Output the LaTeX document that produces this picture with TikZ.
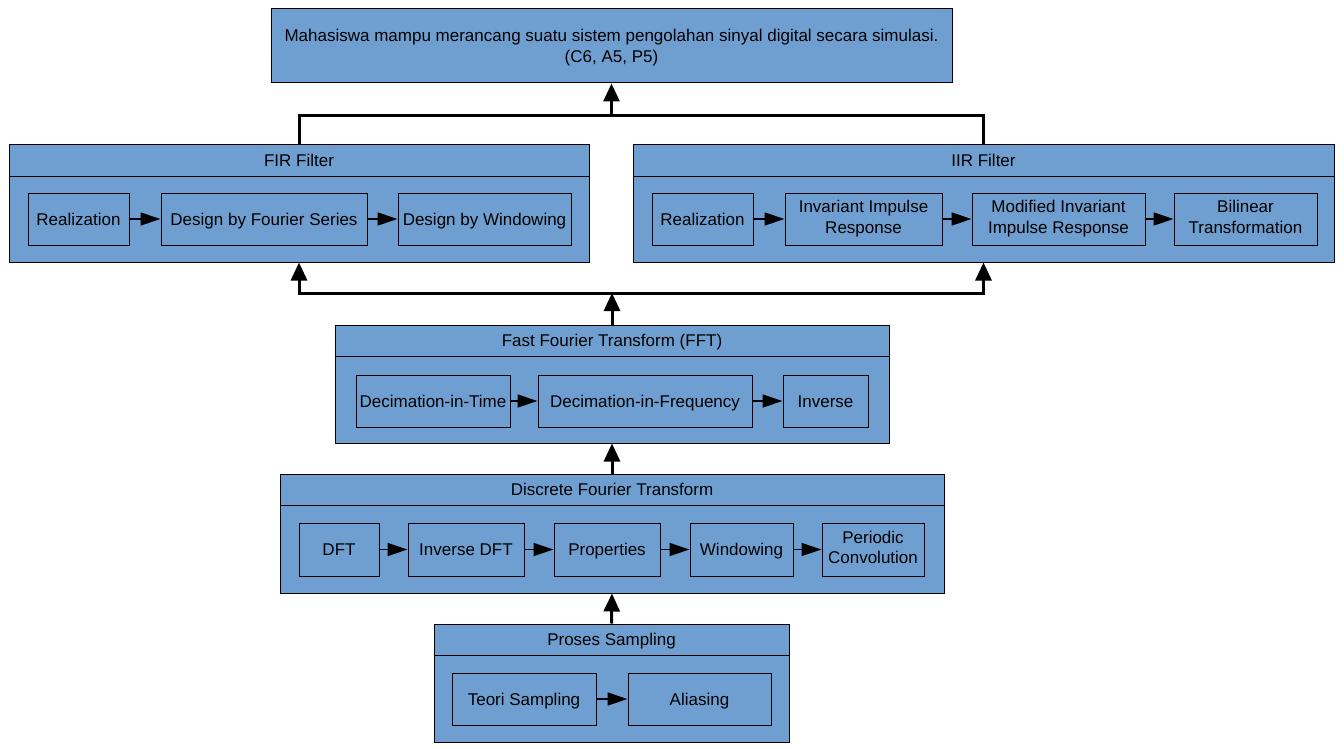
\documentclass[tikz,border=0pt]{standalone}
\usepackage{fontspec}
\setmainfont{Liberation Sans}
\usetikzlibrary{arrows.meta}
\definecolor{boxblue}{RGB}{111,159,208}
\newcommand{\capstrut}{\rule[-4.2pt]{0pt}{20.5pt}}

\begin{document}
\begin{tikzpicture}[
  x=1pt, y=-1pt,
  font=\fontsize{17}{20.5}\selectfont,
  panel/.style={
    draw=black, fill=boxblue, line width=1pt,
    inner sep=0pt
  },
  item/.style={
    draw=black, fill=boxblue, line width=1pt,
    minimum height=52pt, inner sep=0pt, align=center,
    execute at begin node=\capstrut, execute at end node=\capstrut
  },
  title/.style={inner sep=0pt, anchor=center, execute at begin node=\capstrut},
  flow/.style={line width=1.3pt, -{Triangle[length=20pt, width=13pt]}},
  bus/.style={line width=3pt},
  busarrow/.style={line width=3pt, -{Triangle[length=18pt, width=16pt]}},
]
  \useasboundingbox (0,0) rectangle (1344,749);

  % goal
  \node[panel, minimum width=681pt, minimum height=74pt, align=center]
    (goal) at (611.5,46)
    {\capstrut Mahasiswa mampu merancang suatu sistem pengolahan sinyal digital secara simulasi.\\(C6, A5, P5)\capstrut};

  % panels
  \node[panel, minimum width=580pt, minimum height=117pt] (fir) at (299,203.5) {};
  \node[panel, minimum width=701pt, minimum height=117pt] (iir) at (983.5,203.5) {};
  \node[panel, minimum width=554pt, minimum height=118pt] (fft) at (612,384) {};
  \node[panel, minimum width=664pt, minimum height=119pt] (dft) at (612,533.5) {};
  \node[panel, minimum width=355pt, minimum height=118pt] (samp) at (611.5,683) {};

  \foreach \p/\t in {fir/FIR Filter, iir/IIR Filter,
                     fft/Fast Fourier Transform (FFT),
                     dft/Discrete Fourier Transform,
                     samp/Proses Sampling} {
    \node[title] (\p-title) at ([yshift=-16pt]\p.north) {\t};
    \draw[line width=1pt] ([yshift=-32pt]\p.north west)
                       -- ([yshift=-32pt]\p.north east);
  }

  % FIR
  \node[item, minimum width=101pt] (fir1) at (78.5,219) {Realization};
  \node[item, minimum width=206pt] (fir2) at (264,219) {Design by Fourier Series};
  \node[item, minimum width=173pt] (fir3) at (484.5,219) {Design by Windowing};

  % IIR
  \node[item, minimum width=101pt] (iir1) at (702.5,219) {Realization};
  \node[item, minimum width=157pt] (iir2) at (863.5,219) {Invariant Impulse\\Response};
  \node[item, minimum width=173pt] (iir3) at (1058.5,219) {Modified Invariant\\Impulse Response};
  \node[item, minimum width=143pt] (iir4) at (1245.5,219) {Bilinear\\Transformation};

  % FFT
  \node[item, minimum width=154pt] (fft1) at (433,401) {Decimation-in-Time};
  \node[item, minimum width=214pt] (fft2) at (645,401) {Decimation-in-Frequency};
  \node[item, minimum width=85pt] (fft3) at (825.5,401) {Inverse};

  % DFT
  \node[item, minimum width=80pt, minimum height=53pt] (dft1) at (339,549.5) {DFT};
  \node[item, minimum width=116pt, minimum height=53pt] (dft2) at (466,549.5) {Inverse DFT};
  \node[item, minimum width=106pt, minimum height=53pt] (dft3) at (607,549.5) {Properties};
  \node[item, minimum width=103pt, minimum height=53pt] (dft4) at (741.5,549.5) {Windowing};
  \node[item, minimum width=102pt, minimum height=53pt] (dft5) at (873,549.5) {Periodic\\Convolution};

  % Sampling
  \node[item, minimum width=144pt] (samp1) at (524,699) {Teori Sampling};
  \node[item, minimum width=143pt] (samp2) at (699.5,699) {Aliasing};

  \foreach \a/\b in {fir1/fir2, fir2/fir3,
                     iir1/iir2, iir2/iir3, iir3/iir4,
                     fft1/fft2, fft2/fft3,
                     dft1/dft2, dft2/dft3, dft3/dft4, dft4/dft5,
                     samp1/samp2} {
    \draw[flow] (\a) -- (\b);
  }

  % buses between panels
  \coordinate (topbus) at (goal.south |- 0,116);
  \coordinate (midbus) at (fft.north |- 0,293);

  \draw[bus] (fir.north) |- (topbus) -| (iir.north);
  \draw[busarrow] (topbus) -- (goal.south);

  \draw[busarrow] (fft.north) -- (midbus);
  \draw[busarrow] (midbus) -| (fir.south);
  \draw[busarrow] (midbus) -| (iir.south);

  \draw[busarrow] (dft.north) -- (fft.south);
  \draw[busarrow] (samp.north) -- (dft.south);
\end{tikzpicture}
\end{document}
